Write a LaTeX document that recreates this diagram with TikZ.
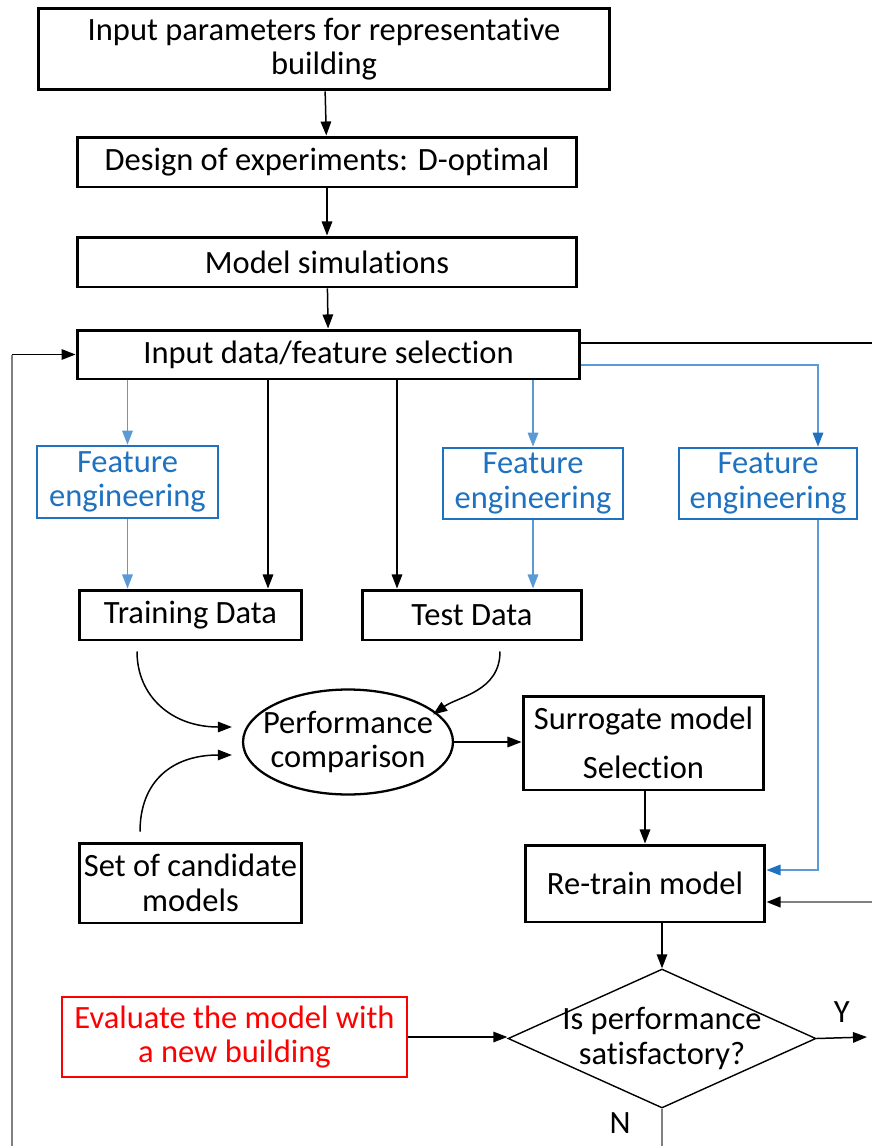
\documentclass[tikz,border=0pt]{standalone}
\usepackage{fontspec}
\setmainfont[Ligatures=NoCommon]{Carlito}
\usetikzlibrary{shapes.geometric,arrows.meta,calc}

\definecolor{feblue}{HTML}{1F72C0}
\definecolor{linkblue}{HTML}{5B9BD5}
\definecolor{evalred}{HTML}{FF0000}

\begin{document}
\begin{tikzpicture}[
        x=0.02cm, y=-0.02cm,
        every node/.style={font=\fontsize{18.5}{19.6}\selectfont},
        box/.style={rectangle, draw=black, line width=1.7pt, fill=white, align=center, inner sep=2pt},
        febox/.style={box, draw=feblue, text=feblue, line width=1.5pt},
        evalbox/.style={box, draw=evalred, text=evalred, line width=1.5pt},
        perfnode/.style={ellipse, draw=black, line width=1.3pt, inner xsep=-0.23cm, inner ysep=-0.06cm, align=center},
        decision/.style={diamond, draw=black, line width=0.8pt, inner sep=0pt},
        arrow/.style={-{Triangle[length=8pt,width=6pt]}, line width=0.85pt, draw=black},
        bluearrow/.style={-{Triangle[length=8pt,width=6pt]}, line width=0.85pt, draw=linkblue},
        darkblue tip/.style={-{Triangle[length=8pt,width=6pt,color=feblue]}},
        loopline/.style={line width=1.2pt, draw=gray},
        black tip/.style={-{Triangle[length=8pt,width=6pt,color=black]}},
    ]

        \useasboundingbox (0,0) rectangle (872,1146);

        \node[box, minimum width=11.44cm, minimum height=1.64cm] (top) at (324,49) {Input parameters for representative\\building};
        \node[box, minimum width=10cm, minimum height=1cm] (doe) at (327,162) {Design of experiments: D-optimal};
        \node[box, minimum width=10cm, minimum height=1cm] (sims) at (327,262) {Model simulations};
        \node[box, minimum width=10.06cm, minimum height=0.98cm] (sel) at (328.5,354.5) {Input data/feature selection};

        \node[febox, minimum width=3.62cm, minimum height=1.44cm] (fe1) at (127.5,482) {Feature\\engineering};
        \node[febox, minimum width=3.6cm, minimum height=1.42cm] (fe2) at (533,483.5) {Feature\\engineering};
        \node[febox, minimum width=3.56cm, minimum height=1.42cm] (fe3) at (768,483.5) {Feature\\engineering};

        \node[box, minimum width=4.46cm, minimum height=1cm] (train) at (190.5,615) {Training Data};
        \node[box, minimum width=4.4cm, minimum height=1cm] (test) at (472,615) {Test Data};

        \node[perfnode, minimum width=4.2cm, minimum height=2.1cm] (perf) at (348,742) {Performance\\comparison};
        \node[box, minimum width=4.82cm, minimum height=1.88cm] (surr) at (643.5,743) {Surrogate model\\[8pt]Selection};
        \node[box, minimum width=4.46cm, minimum height=1.6cm] (cand) at (190.5,883) {Set of candidate\\models};
        \node[box, minimum width=4.8cm, minimum height=1.54cm] (retrain) at (645,883.5) {Re-train model};

        \node[decision, minimum width=6.16cm, minimum height=2.78cm] (dec) at (662,1038.5) {};
        \node[align=center] (dectext) at (dec) {Is performance\\satisfactory?};
        \node[evalbox, minimum width=6.9cm, minimum height=1.6cm] (eval) at (234.5,1037) {Evaluate the model with\\a new building};

        \coordinate (leftend) at (12,1146);
        \coordinate (rightout) at (872,0);
        \coordinate (yend) at (867,1037);
        \coordinate (nend) at (662,1146);
        \coordinate (selhi) at ([yshift=0.23cm]sel.east);
        \coordinate (retrainlo) at ([yshift=-0.37cm]retrain.east);

        \draw[arrow] (top) -- (doe);
        \draw[arrow] (doe) -- (sims);
        \draw[arrow] (sims) -- (sel);

        \draw[loopline] (leftend) -- (leftend |- sel.west);
        \draw[arrow] (leftend |- sel.west) -- (sel.west);
        \draw[line width=0.85pt] (selhi) -- (rightout |- selhi);
        \draw[bluearrow, darkblue tip] ([yshift=-0.21cm]sel.east) -| ([xshift=1cm]fe3.north);

        \draw[bluearrow] (fe1.north |- sel.south) -- (fe1.north);
        \draw[bluearrow] (fe1.south) -- (fe1.south |- train.north);
        \draw[arrow] (268,0 |- sel.south) -- (268,0 |- train.north);
        \draw[arrow] (397,0 |- sel.south) -- (397,0 |- test.north);
        \draw[bluearrow] (fe2.north |- sel.south) -- (fe2.north);
        \draw[bluearrow] (fe2.south) -- (fe2.south |- test.north);
        \draw[bluearrow, darkblue tip] ([xshift=1cm]fe3.south) |- ([yshift=0.27cm]retrain.east);

        \draw[arrow] ([xshift=-1.07cm, yshift=-0.2cm]train.south) .. controls +(0,45) and +(-60,0) .. ([xshift=-0.2cm, yshift=0.3cm]perf.west);
        \draw[arrow] ([xshift=0.56cm, yshift=-0.2cm]test.south) .. controls +(0,40) and +(25,-18) .. ([xshift=-0.42cm, yshift=0.55cm]perf.east);
        \draw[arrow] ([xshift=-1.01cm, yshift=0.2cm]cand.north) .. controls +(0,-50) and +(-60,0) .. ([xshift=-0.2cm, yshift=-0.26cm]perf.west);

        \draw[arrow] (perf.east) -- (perf.east -| surr.west);
        \draw[arrow] (surr.south -| retrain.north) -- (retrain.north);
        \draw[loopline, black tip] (rightout |- retrainlo) -- (retrainlo);
        \draw[arrow] (retrain.south -| dec.north) -- (dec.north);
        \draw[arrow] (eval.east) -- (eval.east -| dec.west);
        \draw[arrow] (dec.east) -- node[above=5pt] {Y} (yend);
        \draw[loopline] (dec.south) -- node[pos=0.38, left=14pt] {N} (nend);

    \end{tikzpicture}
\end{document}
